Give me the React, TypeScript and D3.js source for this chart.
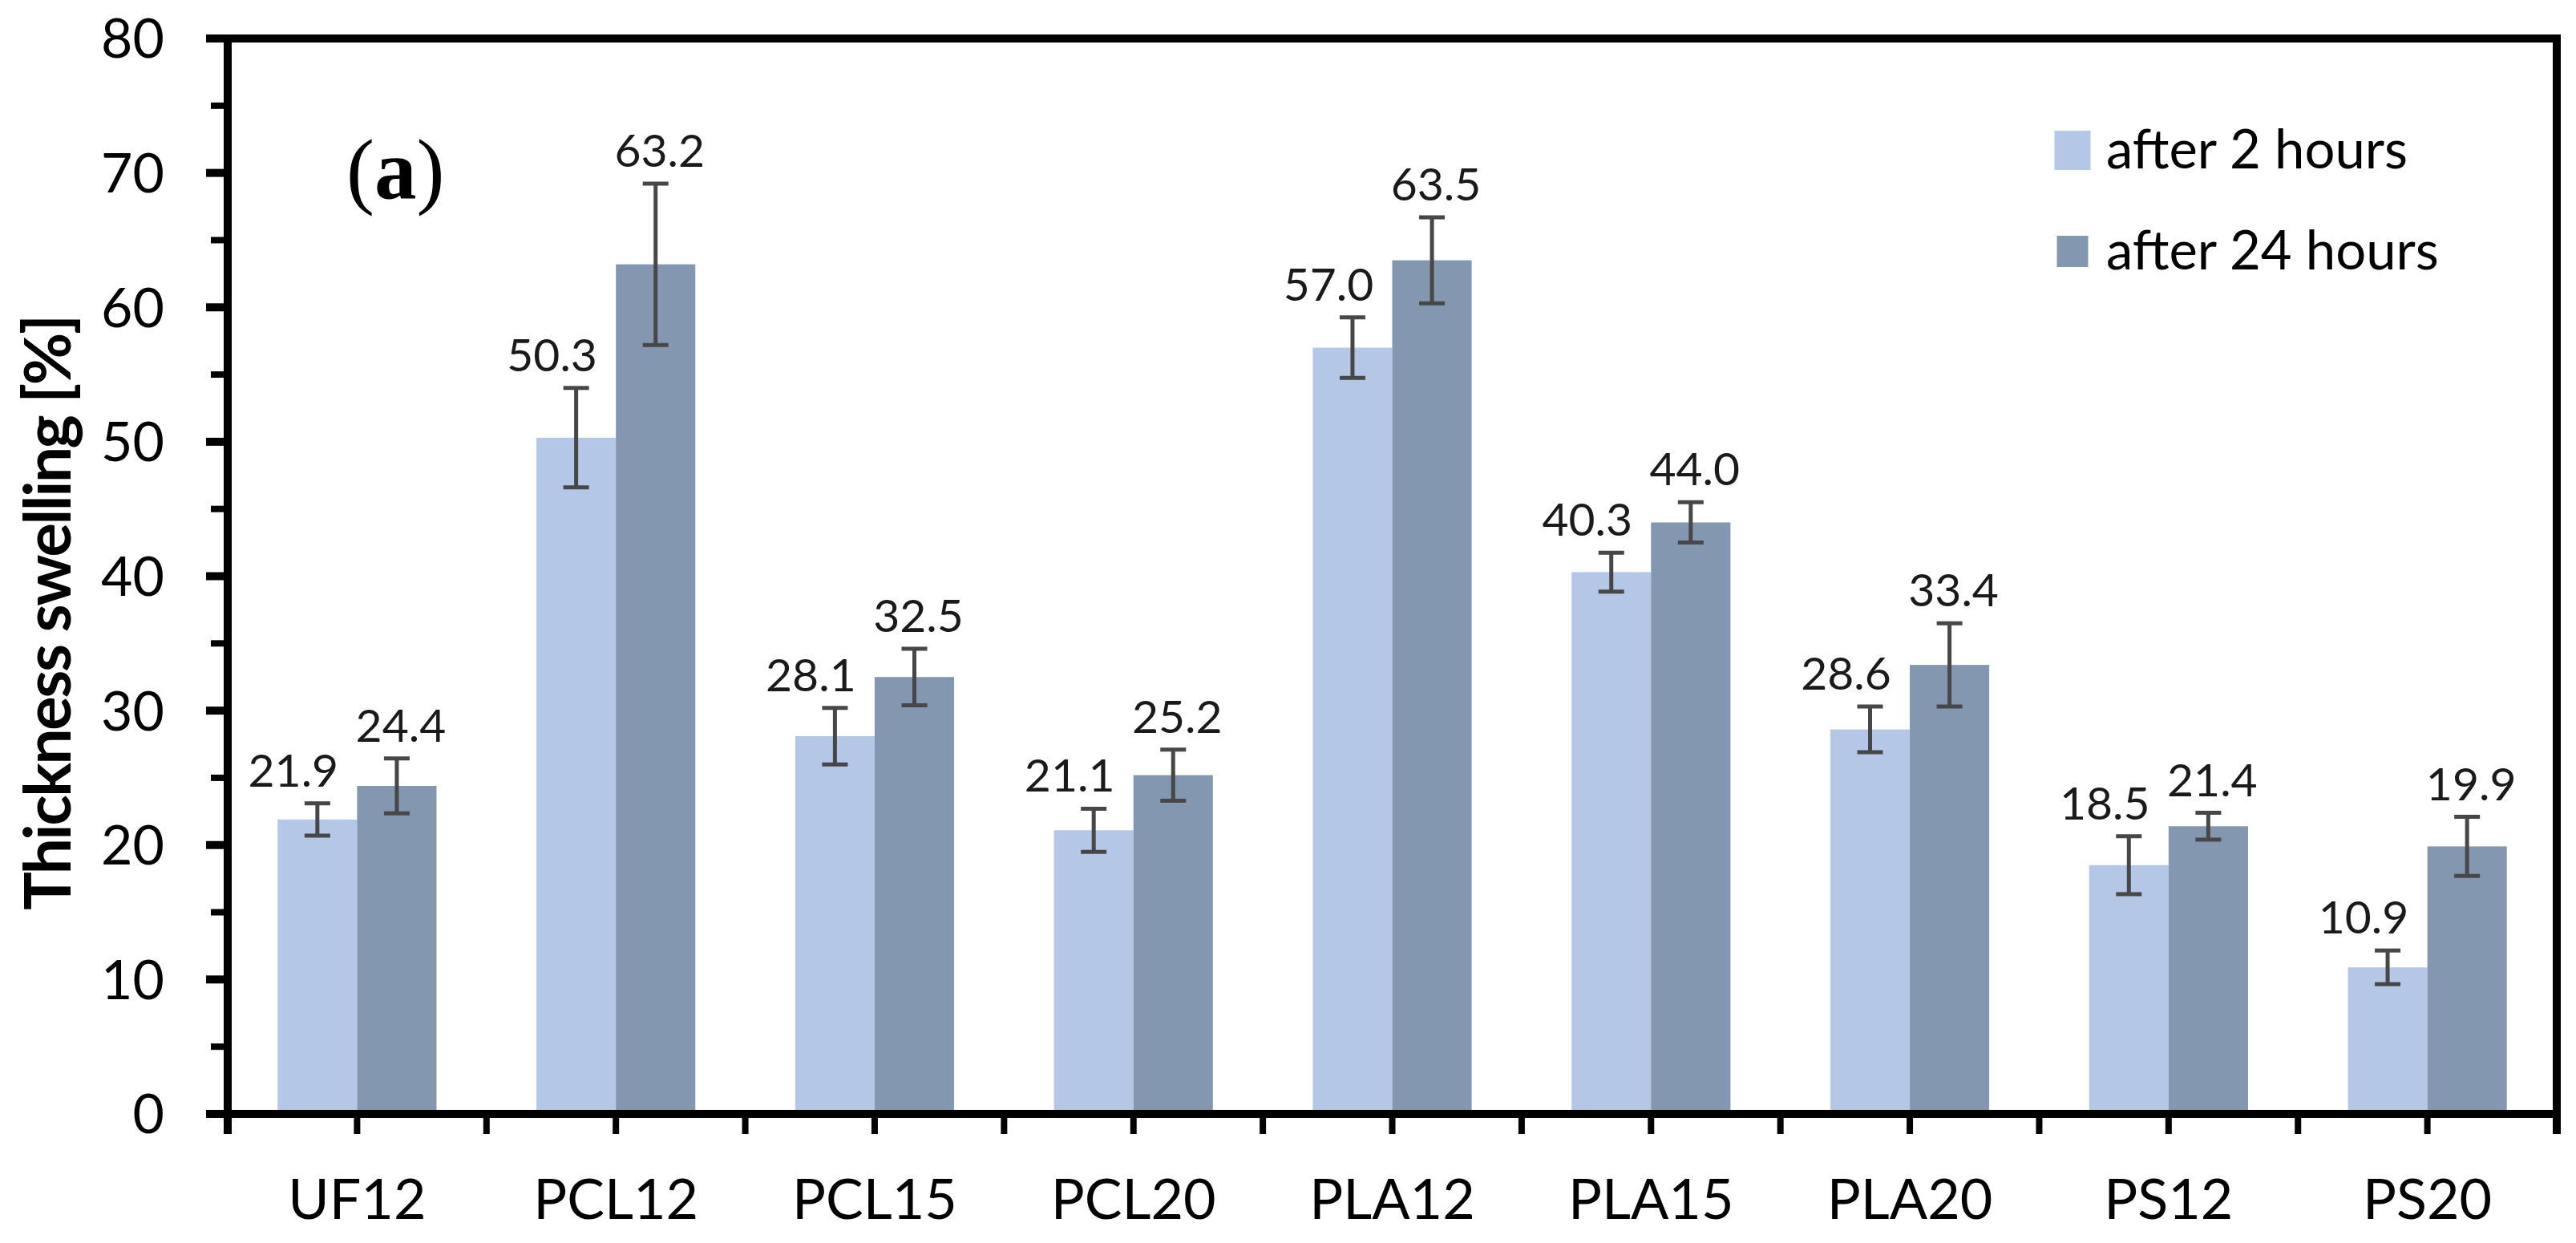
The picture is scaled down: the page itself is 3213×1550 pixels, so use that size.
import React from 'react';
import * as d3 from 'd3';

const categories = ['UF12', 'PCL12', 'PCL15', 'PCL20', 'PLA12', 'PLA15', 'PLA20', 'PS12', 'PS20'];
const seriesNames = ['after 2 hours', 'after 24 hours'];
const after2h = [21.9, 50.3, 28.1, 21.1, 57.0, 40.3, 28.6, 18.5, 10.9];
const after24h = [24.4, 63.2, 32.5, 25.2, 63.5, 44.0, 33.4, 21.4, 19.9];
const err2h = [1.2, 3.7, 2.1, 1.6, 2.25, 1.45, 1.7, 2.15, 1.25];
const err24h = [2.05, 6.0, 2.1, 1.9, 3.2, 1.5, 3.1, 1.0, 2.2];
const yDomain = [0, 80];

const W = 3213;
const H = 1550;
const colors = ['#b4c7e7', '#8497b0'];
const swatchSizes = [[45, 49], [39, 39]];
const errColor = '#474747';
const font = 'Lato, "Open Sans", sans-serif';

export default function App() {
  const left = 284;
  const right = 3189;
  const top = 48;
  const bottom = 1389;

  const x = d3.scaleBand<string>().domain(categories).range([left, right]).padding(0);
  const y = d3.scaleLinear().domain(yDomain).range([bottom, top]);
  const bw = x.bandwidth() * 0.307;

  const series = [
    { name: seriesNames[0], values: after2h, errs: err2h, dx: -bw / 2, labelDx: -30 },
    { name: seriesNames[1], values: after24h, errs: err24h, dx: bw / 2, labelDx: 5 },
  ];

  const major = y.ticks(8);
  const minor = y.ticks(16).filter(t => !major.includes(t));

  // ticks under the x axis: category edges and centres
  const xTicks: number[] = [];
  categories.forEach(c => {
    xTicks.push(x(c)!);
    xTicks.push(x(c)! + x.bandwidth() / 2);
  });
  xTicks.push(right);

  const axisW = 10;
  const tickEnd = bottom + 25;

  return (
    <svg width={W} height={H} style={{ position: 'absolute', left: 0, top: 0, background: '#fff' }}>
      <rect width={W} height={H} fill="#fff" />

      {/* bars */}
      {series.map((s, si) => (
        <g key={s.name}>
          {categories.map((c, i) => {
            const cx = x(c)! + x.bandwidth() / 2 + s.dx;
            return (
              <rect
                key={c}
                x={cx - bw / 2}
                y={y(s.values[i])}
                width={bw}
                height={y(0) - y(s.values[i])}
                fill={colors[si]}
              />
            );
          })}
        </g>
      ))}

      {/* error bars and value labels */}
      {series.map(s => (
        <g key={s.name + '-err'}>
          {categories.map((c, i) => {
            const cx = x(c)! + x.bandwidth() / 2 + s.dx;
            const hi = y(s.values[i] + s.errs[i]);
            const lo = y(s.values[i] - s.errs[i]);
            return (
              <g key={c}>
                <line x1={cx} x2={cx} y1={hi} y2={lo} stroke={errColor} strokeWidth={5} />
                <line x1={cx - 16} x2={cx + 16} y1={hi} y2={hi} stroke={errColor} strokeWidth={5} />
                <line x1={cx - 16} x2={cx + 16} y1={lo} y2={lo} stroke={errColor} strokeWidth={5} />
                <text
                  x={cx + s.labelDx}
                  y={hi - 21}
                  textAnchor="middle"
                  fontFamily={font}
                  fontSize={57}
                  fill="#1a1a1a"
                >
                  {s.values[i].toFixed(1)}
                </text>
              </g>
            );
          })}
        </g>
      ))}

      {/* frame */}
      <line x1={257} x2={right + axisW / 2} y1={top} y2={top} stroke="#000" strokeWidth={axisW} />
      <line x1={right} x2={right} y1={top - axisW / 2} y2={tickEnd} stroke="#000" strokeWidth={axisW} />
      <line x1={left} x2={left} y1={top - axisW / 2} y2={tickEnd} stroke="#000" strokeWidth={axisW} />
      <line x1={257} x2={right + axisW / 2} y1={bottom} y2={bottom} stroke="#000" strokeWidth={axisW} />

      {/* y ticks */}
      {major.map(t => (
        <g key={'M' + t}>
          <line x1={257} x2={left} y1={y(t)} y2={y(t)} stroke="#000" strokeWidth={10} />
          <text
            x={205}
            y={y(t)}
            dy="0.36em"
            textAnchor="end"
            fontFamily={font}
            fontSize={68}
            fill="#000"
          >
            {t}
          </text>
        </g>
      ))}
      {minor.map(t => (
        <line key={'m' + t} x1={263} x2={left} y1={y(t)} y2={y(t)} stroke="#000" strokeWidth={8} />
      ))}

      {/* x ticks and labels */}
      {xTicks.map((t, i) => (
        <line key={'xt' + i} x1={t} x2={t} y1={bottom} y2={tickEnd} stroke="#000" strokeWidth={8} />
      ))}
      {categories.map(c => (
        <text
          key={'xl' + c}
          x={x(c)! + x.bandwidth() / 2}
          y={1520}
          textAnchor="middle"
          fontFamily={font}
          fontSize={70}
          fill="#000"
        >
          {c}
        </text>
      ))}

      {/* y title */}
      <text
        transform={`translate(88, ${(392 + 1135) / 2}) rotate(-90)`}
        textAnchor="middle"
        fontFamily={font}
        fontWeight="bold"
        fontSize={80}
        textLength={743}
        lengthAdjust="spacing"
        fill="#000"
      >
        Thickness swelling [%]
      </text>

      {/* panel tag */}
      <text x={432} y={247} fontFamily='"Liberation Serif", "Times New Roman", serif' fontSize={105} fill="#000">
        (<tspan fontWeight="bold">a</tspan>)
      </text>

      {/* legend */}
      {seriesNames.map((n, i) => {
        const cy = 187.5 + i * 126;
        const [sw, sh] = swatchSizes[i];
        return (
          <g key={'lg' + n}>
            <rect x={2585 - sw / 2} y={cy - sh / 2} width={sw} height={sh} fill={colors[i]} />
            <text x={2627} y={cy + 22} fontFamily={font} fontSize={67} fill="#000">
              {n}
            </text>
          </g>
        );
      })}
    </svg>
  );
}
